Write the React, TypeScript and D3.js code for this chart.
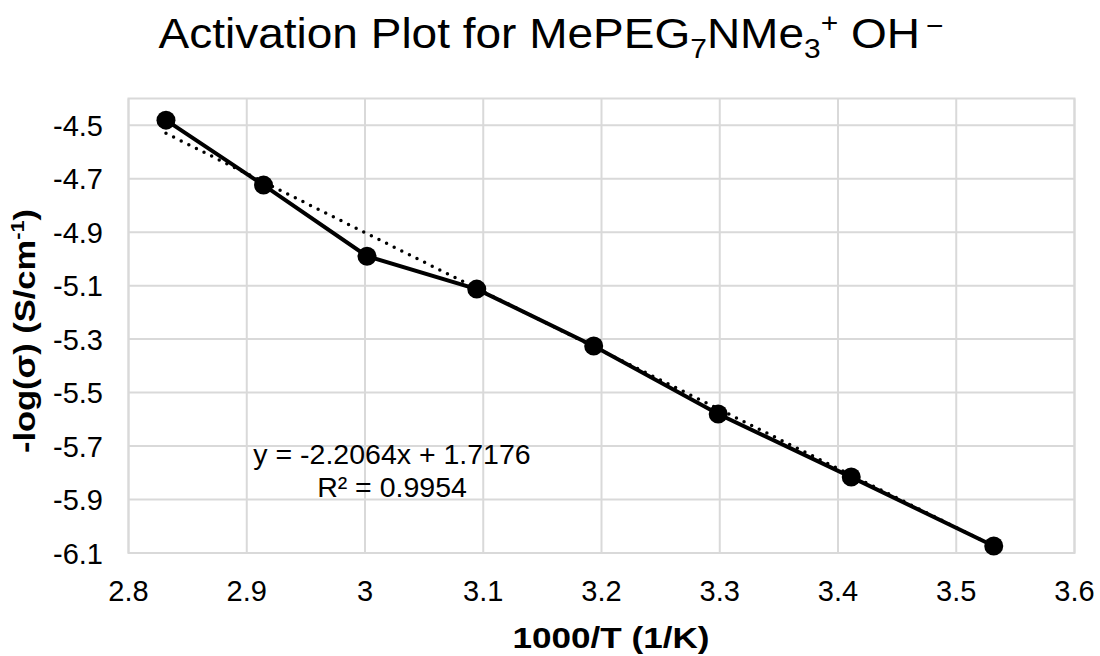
import React from "react";
import * as d3 from "d3";

const invT = [2.8317, 2.9142, 3.0017, 3.0945, 3.1934, 3.2987, 3.4112, 3.5317];
const negLogSigma = [-4.481, -4.724, -4.99, -5.113, -5.326, -5.58, -5.816, -6.074];
const xTicks = [2.8, 2.9, 3.0, 3.1, 3.2, 3.3, 3.4, 3.5, 3.6];
const yTicks = [-4.5, -4.7, -4.9, -5.1, -5.3, -5.5, -5.7, -5.9, -6.1];
const slope = -2.2064;
const intercept = 1.7176;
const r2 = 0.9954;

const W = 1100;
const H = 656;
const left = 128.5;
const right = 1074.5;
const top = 98.5;
const bottom = 553;

export default function App() {
  const x = d3.scaleLinear().domain([2.8, 3.6]).range([left, right]);
  const y = d3.scaleLinear().domain([-6.1, -4.4]).range([bottom, top]);
  const line = d3
    .line<number>()
    .x((_, i) => x(invT[i]))
    .y((d) => y(d));
  const xMin = d3.min(invT)!;
  const xMax = d3.max(invT)!;
  const font = "'Liberation Sans', Arial, sans-serif";
  return (
    <svg width={W} height={H} style={{ position: "absolute", left: 0, top: 0, background: "#fff" }} fontFamily={font}>
      <rect x={0} y={0} width={W} height={H} fill="#fff" />
      {xTicks.map((t) => (
        <line key={"gx" + t} x1={x(t)} x2={x(t)} y1={top} y2={bottom} stroke="#d9d9d9" strokeWidth={2} />
      ))}
      {yTicks.map((t) => (
        <line key={"gy" + t} x1={left} x2={right} y1={y(t)} y2={y(t)} stroke="#d9d9d9" strokeWidth={2} />
      ))}
      <rect x={left} y={top} width={right - left} height={bottom - top} fill="none" stroke="#d9d9d9" strokeWidth={2} />
      <line
        x1={x(xMin)}
        y1={y(slope * xMin + intercept)}
        x2={x(xMax)}
        y2={y(slope * xMax + intercept)}
        stroke="#000"
        strokeWidth={3.5}
        strokeDasharray="0 8.5"
        strokeLinecap="round"
      />
      <path d={line(negLogSigma)!} fill="none" stroke="#000" strokeWidth={4} />
      {negLogSigma.map((v, i) => (
        <circle key={i} cx={x(invT[i])} cy={y(v)} r={9.5} fill="#000" />
      ))}
      {yTicks.map((t) => (
        <text key={"ty" + t} x={103} y={y(t) + 10.5} textAnchor="end" fontSize={29} fill="#000">
          {t.toFixed(1)}
        </text>
      ))}
      {xTicks.map((t) => (
        <text key={"tx" + t} x={x(t)} y={601} textAnchor="middle" fontSize={29} fill="#000">
          {d3.format("")(+t.toFixed(1))}
        </text>
      ))}
      <g transform="translate(611, 648) scale(1.17, 1)">
        <text x={0} y={0} textAnchor="middle" fontSize={30} fontWeight="bold" fill="#000">
          1000/T (1/K)
        </text>
      </g>
      <g transform="translate(35, 331) rotate(-90) scale(1.15, 1)">
        <text x={0} y={0} textAnchor="middle" fontSize={30} fontWeight="bold" fill="#000">
          -log(σ) (S/cm<tspan dy="-11" fontSize={19}>-1</tspan>
          <tspan dy="11">)</tspan>
        </text>
      </g>
      <text x={392} y={464} textAnchor="middle" fontSize={28.5} fill="#000">
        {`y = ${slope}x + ${intercept}`}
      </text>
      <text x={392} y={497} textAnchor="middle" fontSize={28.5} fill="#000">
        {`R² = ${r2}`}
      </text>
      <g transform="translate(551, 48) scale(1.07, 1)">
        <text x={0} y={0} textAnchor="middle" fontSize={43} fill="#000">
          Activation Plot for MePEG<tspan dy="10" fontSize={28}>7</tspan>
          <tspan dy="-10">NMe</tspan>
          <tspan dy="10" fontSize={28}>3</tspan>
          <tspan dy="-26" fontSize={28}>+</tspan>
          <tspan dy="16"> OH</tspan>
          <tspan dy="-13" fontSize={28}>{"\u2009\u2212"}</tspan>
        </text>
      </g>
    </svg>
  );
}
